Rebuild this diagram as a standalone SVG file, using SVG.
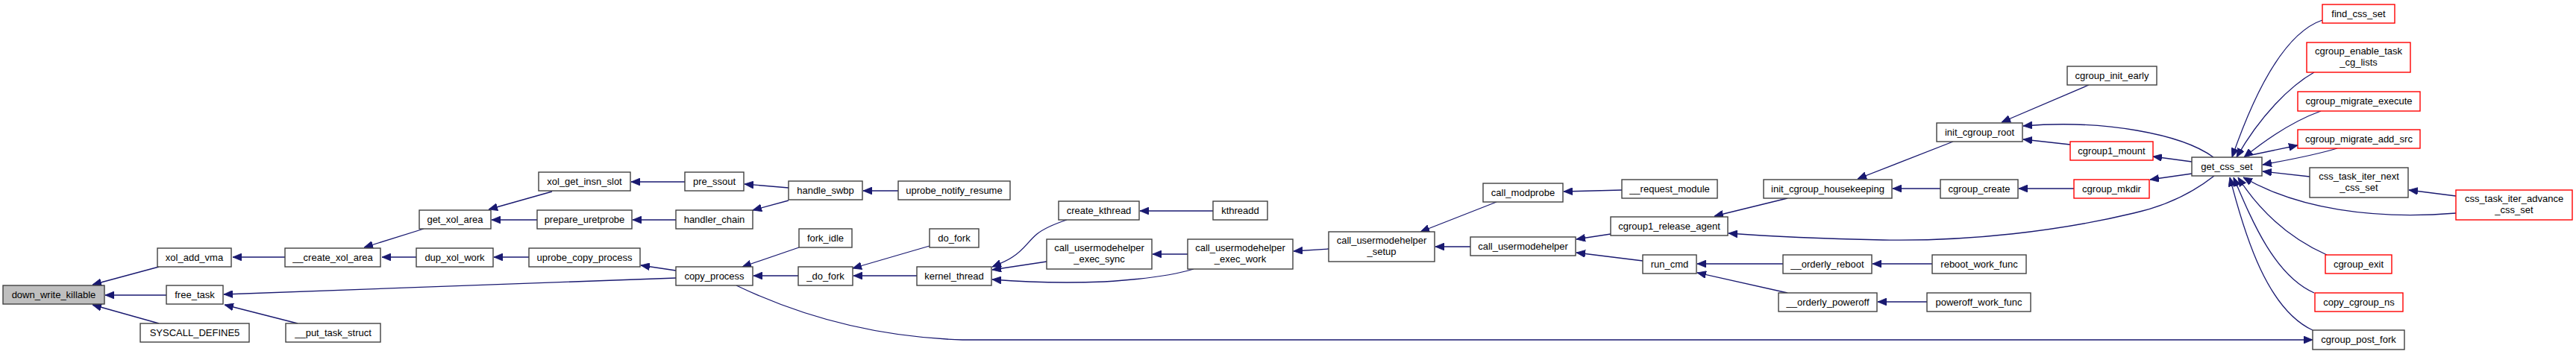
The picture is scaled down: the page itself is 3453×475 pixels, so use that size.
<svg xmlns="http://www.w3.org/2000/svg" width="3453" height="475" viewBox="0 0 3453 475">
<style>
.node rect{fill:#ffffff;stroke:#404040;stroke-width:1.4}
.node.red rect{stroke:#ff0000}
.node.cur rect{fill:#bfbfbf}
.node text{font-family:"Liberation Sans",Arial,sans-serif;font-size:13px;fill:#000000;text-anchor:middle}
.edges path{fill:none;stroke:#191970;stroke-width:1.3;marker-end:url(#ah)}
</style>
<defs>
<marker id="ah" viewBox="0 0 12 10" refX="12" refY="5" markerWidth="12" markerHeight="10" markerUnits="userSpaceOnUse" orient="auto">
<path d="M0,0 L12,5 L0,10 z" fill="#191970" stroke="#191970" stroke-width="0.8"/>
</marker>
</defs>
<rect width="3453" height="475" fill="#ffffff"/>
<g class="edges" id="edges">
<path d="M213,358 L124,382"/>
<path d="M223,396 L141,396"/>
<path d="M213,434 L124,409"/>
<path d="M382,345 L312,345"/>
<path d="M906,373 L300,395"/>
<path d="M399,434 L301,409"/>
<path d="M568,307 L488,332"/>
<path d="M558,345 L512,345"/>
<path d="M740,257 L655,281"/>
<path d="M720,295 L659,295"/>
<path d="M918,244 L846,244"/>
<path d="M906,295 L848,295"/>
<path d="M1057,252 L998,247"/>
<path d="M1057,269 L1009,282"/>
<path d="M709,345 L662,345"/>
<path d="M906,363 L859,356"/>
<path d="M1071,332 L995,358"/>
<path d="M1070,370 L1010,370"/>
<path d="M1204,256 L1157,256"/>
<path d="M1246,330 L1143,360"/>
<path d="M1229,370 L1144,370"/>
<path d="M1430,295 C1415,300 1400,306 1390,314 C1378,324 1372,336 1357,345 C1350,350 1340,354 1330,358"/>
<path d="M1403,351 L1330,362"/>
<path d="M1600,361 C1570,370 1530,375 1480,378 C1430,380 1380,379 1330,375"/>
<path d="M1626,283 L1528,283"/>
<path d="M1592,341 L1545,341"/>
<path d="M1781,334 L1734,337"/>
<path d="M2006,271 L1904,311"/>
<path d="M1971,331 L1924,331"/>
<path d="M2174,255 L2096,257"/>
<path d="M2159,314 L2113,321"/>
<path d="M2202,350 L2113,339"/>
<path d="M2390,354 L2275,354"/>
<path d="M2396,393 L2275,366"/>
<path d="M2396,266 L2298,290"/>
<path d="M2968,236 C2940,258 2905,276 2860,286 C2760,310 2640,324 2524,322 C2430,320 2370,317 2317,313"/>
<path d="M2618,190 L2490,240"/>
<path d="M2601,253 L2537,253"/>
<path d="M2800,114 L2683,164"/>
<path d="M2967,211 C2925,180 2820,160 2712,169"/>
<path d="M2775,194 L2712,187"/>
<path d="M2780,253 L2706,253"/>
<path d="M2590,354 L2510,354"/>
<path d="M2583,405 L2517,405"/>
<path d="M2938,217 L2886,210"/>
<path d="M2938,233 L2882,241"/>
<path d="M3113,27 C3060,45 3020,130 2992,211"/>
<path d="M3102,97 C3070,115 3030,155 2998,211"/>
<path d="M3111,149 C3075,162 3040,185 3008,211"/>
<path d="M3133,199 C3100,209 3065,215 3033,221"/>
<path d="M3013,209 L3080,195"/>
<path d="M3096,237 L3033,230"/>
<path d="M3292,263 L3229,255"/>
<path d="M3292,286 C3180,295 3080,280 3007,238"/>
<path d="M3119,342 C3070,320 3030,285 3000,238"/>
<path d="M3102,393 C3050,370 3020,300 2994,238"/>
<path d="M3100,443 C3040,415 3010,320 2989,238"/>
<path d="M987,383 C1060,418 1160,452 1290,456 L3100,456"/>
</g>
<g id="n_down_write_killable" class="node cur"><rect x="4" y="383" width="136" height="25"/><text x="72" y="400">down_write_killable</text></g>
<g id="n_xol_add_vma" class="node"><rect x="211" y="333" width="99" height="25"/><text x="260.5" y="350">xol_add_vma</text></g>
<g id="n_free_task" class="node"><rect x="223" y="383" width="76" height="25"/><text x="261" y="400">free_task</text></g>
<g id="n_SYSCALL_DEFINE5" class="node"><rect x="188" y="434" width="146" height="25"/><text x="261" y="451">SYSCALL_DEFINE5</text></g>
<g id="n___create_xol_area" class="node"><rect x="382" y="333" width="128" height="25"/><text x="446" y="350">__create_xol_area</text></g>
<g id="n___put_task_struct" class="node"><rect x="383" y="434" width="127" height="25"/><text x="446.5" y="451">__put_task_struct</text></g>
<g id="n_get_xol_area" class="node"><rect x="562" y="282" width="96" height="25"/><text x="610" y="299">get_xol_area</text></g>
<g id="n_dup_xol_work" class="node"><rect x="558" y="333" width="103" height="25"/><text x="609.5" y="350">dup_xol_work</text></g>
<g id="n_xol_get_insn_slot" class="node"><rect x="722" y="231" width="123" height="25"/><text x="783.5" y="248">xol_get_insn_slot</text></g>
<g id="n_prepare_uretprobe" class="node"><rect x="720" y="282" width="127" height="25"/><text x="783.5" y="299">prepare_uretprobe</text></g>
<g id="n_uprobe_copy_process" class="node"><rect x="709" y="333" width="149" height="25"/><text x="783.5" y="350">uprobe_copy_process</text></g>
<g id="n_pre_ssout" class="node"><rect x="918" y="231" width="79" height="25"/><text x="957.5" y="248">pre_ssout</text></g>
<g id="n_handler_chain" class="node"><rect x="906" y="282" width="103" height="25"/><text x="957.5" y="299">handler_chain</text></g>
<g id="n_copy_process" class="node"><rect x="906" y="358" width="103" height="25"/><text x="957.5" y="375">copy_process</text></g>
<g id="n_handle_swbp" class="node"><rect x="1057" y="243" width="99" height="25"/><text x="1106.5" y="260">handle_swbp</text></g>
<g id="n_fork_idle" class="node"><rect x="1071" y="307" width="71" height="25"/><text x="1106.5" y="324">fork_idle</text></g>
<g id="n__do_fork" class="node"><rect x="1070" y="358" width="73" height="25"/><text x="1106.5" y="375">_do_fork</text></g>
<g id="n_uprobe_notify_resume" class="node"><rect x="1204" y="243" width="150" height="25"/><text x="1279" y="260">uprobe_notify_resume</text></g>
<g id="n_do_fork" class="node"><rect x="1246" y="307" width="66" height="25"/><text x="1279" y="324">do_fork</text></g>
<g id="n_kernel_thread" class="node"><rect x="1229" y="358" width="100" height="25"/><text x="1279" y="375">kernel_thread</text></g>
<g id="n_create_kthread" class="node"><rect x="1419" y="270" width="108" height="25"/><text x="1473" y="287">create_kthread</text></g>
<g id="n_call_usermodehelper_exec_sync" class="node"><rect x="1403" y="321" width="141" height="40"/><text x="1473.5" y="336.5">call_usermodehelper</text><text x="1473.5" y="351.5">_exec_sync</text></g>
<g id="n_kthreadd" class="node"><rect x="1626" y="270" width="73" height="25"/><text x="1662.5" y="287">kthreadd</text></g>
<g id="n_call_usermodehelper_exec_work" class="node"><rect x="1592" y="321" width="141" height="40"/><text x="1662.5" y="336.5">call_usermodehelper</text><text x="1662.5" y="351.5">_exec_work</text></g>
<g id="n_call_usermodehelper_setup" class="node"><rect x="1781" y="311" width="142" height="40"/><text x="1852" y="326.5">call_usermodehelper</text><text x="1852" y="341.5">_setup</text></g>
<g id="n_call_modprobe" class="node"><rect x="1988" y="246" width="107" height="25"/><text x="2041.5" y="263">call_modprobe</text></g>
<g id="n_call_usermodehelper" class="node"><rect x="1971" y="318" width="141" height="25"/><text x="2041.5" y="335">call_usermodehelper</text></g>
<g id="n___request_module" class="node"><rect x="2174" y="241" width="128" height="25"/><text x="2238" y="258">__request_module</text></g>
<g id="n_cgroup1_release_agent" class="node"><rect x="2159" y="291" width="157" height="25"/><text x="2237.5" y="308">cgroup1_release_agent</text></g>
<g id="n_run_cmd" class="node"><rect x="2202" y="342" width="72" height="25"/><text x="2238" y="359">run_cmd</text></g>
<g id="n_init_cgroup_housekeeping" class="node"><rect x="2364" y="241" width="172" height="25"/><text x="2450" y="258">init_cgroup_housekeeping</text></g>
<g id="n___orderly_reboot" class="node"><rect x="2390" y="342" width="119" height="25"/><text x="2449.5" y="359">__orderly_reboot</text></g>
<g id="n___orderly_poweroff" class="node"><rect x="2384" y="393" width="132" height="25"/><text x="2450" y="410">__orderly_poweroff</text></g>
<g id="n_init_cgroup_root" class="node"><rect x="2596" y="165" width="115" height="25"/><text x="2653.5" y="182">init_cgroup_root</text></g>
<g id="n_cgroup_create" class="node"><rect x="2601" y="241" width="104" height="25"/><text x="2653" y="258">cgroup_create</text></g>
<g id="n_reboot_work_func" class="node"><rect x="2590" y="342" width="126" height="25"/><text x="2653" y="359">reboot_work_func</text></g>
<g id="n_poweroff_work_func" class="node"><rect x="2583" y="393" width="139" height="25"/><text x="2652.5" y="410">poweroff_work_func</text></g>
<g id="n_cgroup_init_early" class="node"><rect x="2771" y="89" width="120" height="25"/><text x="2831" y="106">cgroup_init_early</text></g>
<g id="n_cgroup1_mount" class="node red"><rect x="2775" y="190" width="111" height="25"/><text x="2830.5" y="207">cgroup1_mount</text></g>
<g id="n_cgroup_mkdir" class="node red"><rect x="2780" y="241" width="101" height="25"/><text x="2830.5" y="258">cgroup_mkdir</text></g>
<g id="n_get_css_set" class="node"><rect x="2938" y="211" width="94" height="25"/><text x="2985" y="228">get_css_set</text></g>
<g id="n_find_css_set" class="node red"><rect x="3113" y="6" width="97" height="25"/><text x="3161.5" y="23">find_css_set</text></g>
<g id="n_cgroup_enable_task_cg_lists" class="node red"><rect x="3092" y="57" width="139" height="40"/><text x="3161.5" y="72.5">cgroup_enable_task</text><text x="3161.5" y="87.5">_cg_lists</text></g>
<g id="n_cgroup_migrate_execute" class="node red"><rect x="3080" y="123" width="164" height="26"/><text x="3162" y="140">cgroup_migrate_execute</text></g>
<g id="n_cgroup_migrate_add_src" class="node red"><rect x="3080" y="174" width="164" height="25"/><text x="3162" y="191">cgroup_migrate_add_src</text></g>
<g id="n_css_task_iter_next_css_set" class="node"><rect x="3096" y="225" width="132" height="40"/><text x="3162" y="240.5">css_task_iter_next</text><text x="3162" y="255.5">_css_set</text></g>
<g id="n_css_task_iter_advance_css_set" class="node red"><rect x="3292" y="255" width="156" height="40"/><text x="3370" y="270.5">css_task_iter_advance</text><text x="3370" y="285.5">_css_set</text></g>
<g id="n_cgroup_exit" class="node red"><rect x="3117" y="342" width="89" height="25"/><text x="3161.5" y="359">cgroup_exit</text></g>
<g id="n_copy_cgroup_ns" class="node red"><rect x="3103" y="393" width="118" height="25"/><text x="3162" y="410">copy_cgroup_ns</text></g>
<g id="n_cgroup_post_fork" class="node"><rect x="3100" y="443" width="123" height="26"/><text x="3161.5" y="460">cgroup_post_fork</text></g>
</svg>
